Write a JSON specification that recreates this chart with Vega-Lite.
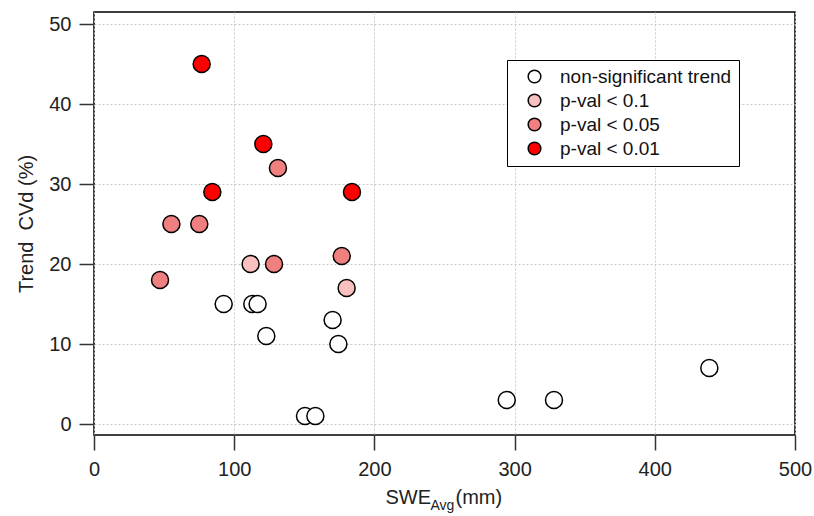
{
  "$schema": "https://vega.github.io/schema/vega-lite/v6.json",
  "width": 701,
  "height": 423,
  "autosize": {"type": "none"},
  "padding": {"left": 94, "top": 12, "right": 19, "bottom": 81},
  "background": "white",
  "config": {
    "view": {"stroke": "black", "strokeWidth": 1.5},
    "font": "Liberation Sans",
    "axis": {
      "labelFont": "Liberation Sans",
      "titleFont": "Liberation Sans",
      "labelColor": "#222",
      "titleColor": "#222",
      "labelFontSize": 20,
      "titleFontSize": 20,
      "titleFontWeight": "normal",
      "tickSize": 15,
      "tickColor": "#333",
      "tickWidth": 1.5,
      "domain": false,
      "gridColor": "#c8c8c8",
      "gridDash": [2, 2],
      "gridWidth": 1,
      "labelFlush": false,
      "labelOverlap": false
    },
    "legend": {
      "labelFont": "Liberation Sans",
      "labelFontSize": 19,
      "labelColor": "#111",
      "labelLimit": 0
    }
  },
  "data": {
    "values": [
      {"swe": 76.8, "cvd": 45, "sig": "p-val < 0.01"},
      {"swe": 120.8, "cvd": 35, "sig": "p-val < 0.01"},
      {"swe": 131.2, "cvd": 32, "sig": "p-val < 0.05"},
      {"swe": 84.4, "cvd": 29, "sig": "p-val < 0.01"},
      {"swe": 184.0, "cvd": 29, "sig": "p-val < 0.01"},
      {"swe": 55.2, "cvd": 25, "sig": "p-val < 0.05"},
      {"swe": 75.1, "cvd": 25, "sig": "p-val < 0.05"},
      {"swe": 176.7, "cvd": 21, "sig": "p-val < 0.05"},
      {"swe": 111.7, "cvd": 20, "sig": "p-val < 0.1"},
      {"swe": 128.4, "cvd": 20, "sig": "p-val < 0.05"},
      {"swe": 47.1, "cvd": 18, "sig": "p-val < 0.05"},
      {"swe": 180.2, "cvd": 17, "sig": "p-val < 0.1"},
      {"swe": 92.5, "cvd": 15, "sig": "non-significant trend"},
      {"swe": 112.9, "cvd": 15, "sig": "non-significant trend"},
      {"swe": 116.7, "cvd": 15, "sig": "non-significant trend"},
      {"swe": 170.2, "cvd": 13, "sig": "non-significant trend"},
      {"swe": 122.9, "cvd": 11, "sig": "non-significant trend"},
      {"swe": 174.3, "cvd": 10, "sig": "non-significant trend"},
      {"swe": 150.5, "cvd": 1, "sig": "non-significant trend"},
      {"swe": 157.9, "cvd": 1, "sig": "non-significant trend"},
      {"swe": 294.4, "cvd": 3, "sig": "non-significant trend"},
      {"swe": 328.1, "cvd": 3, "sig": "non-significant trend"},
      {"swe": 438.9, "cvd": 7, "sig": "non-significant trend"}
    ]
  },
  "layer": [
    {
      "mark": {"type": "point", "shape": "circle", "filled": true, "size": 290, "stroke": "black", "strokeWidth": 1.5, "opacity": 1},
      "encoding": {
        "x": {
          "field": "swe", "type": "quantitative",
          "scale": {"domain": [0, 500], "nice": false, "zero": false},
          "axis": {
            "orient": "bottom",
            "values": [0, 100, 200, 300, 400, 500],
            "labelPadding": 9,
            "title": "SWE",
            "titleAlign": "left",
            "titleAnchor": null,
            "titleX": 291,
            "titleY": 68,
            "titleBaseline": "alphabetic",
            "titleFontSize": 20
          }
        },
        "y": {
          "field": "cvd", "type": "quantitative",
          "scale": {"domain": [-1.375, 51.5], "nice": false, "zero": false},
          "axis": {
            "values": [0, 10, 20, 30, 40, 50],
            "labelPadding": 8,
            "title": "Trend\u00a0 CVd (%)",
            "titleFontSize": 20,
            "titlePadding": 12
          }
        },
        "fill": {
          "field": "sig", "type": "nominal",
          "scale": {
            "domain": ["non-significant trend", "p-val < 0.1", "p-val < 0.05", "p-val < 0.01"],
            "range": ["#ffffff", "#f9c0c0", "#f08080", "#ff0000"]
          },
          "legend": {
            "title": null,
            "orient": "none",
            "legendX": 413,
            "legendY": 48,
            "strokeColor": "black",
            "fillColor": "white",
            "padding": 7,
            "symbolSize": 160,
            "symbolStrokeColor": "black",
            "symbolStrokeWidth": 1.5,
            "symbolType": "circle",
            "symbolOffset": 11,
            "labelOffset": 16,
            "rowPadding": 4
          }
        }
      }
    },
    {
      "mark": {"type": "point", "opacity": 0},
      "encoding": {
        "x": {
          "field": "swe", "type": "quantitative",
          "axis": {
            "orient": "bottom", "labels": false, "ticks": false, "grid": false, "domain": false,
            "title": "Avg",
            "titleAlign": "left",
            "titleAnchor": null,
            "titleX": 336,
            "titleY": 74,
            "titleBaseline": "alphabetic",
            "titleFontSize": 14
          }
        },
        "y": {"field": "cvd", "type": "quantitative"}
      }
    },
    {
      "mark": {"type": "point", "opacity": 0},
      "encoding": {
        "x": {
          "field": "swe", "type": "quantitative",
          "axis": {
            "orient": "bottom", "labels": false, "ticks": false, "grid": false, "domain": false,
            "title": "(mm)",
            "titleAlign": "left",
            "titleAnchor": null,
            "titleX": 361,
            "titleY": 68,
            "titleBaseline": "alphabetic",
            "titleFontSize": 20
          }
        },
        "y": {"field": "cvd", "type": "quantitative"}
      }
    }
  ],
  "resolve": {"axis": {"x": "independent"}}
}
